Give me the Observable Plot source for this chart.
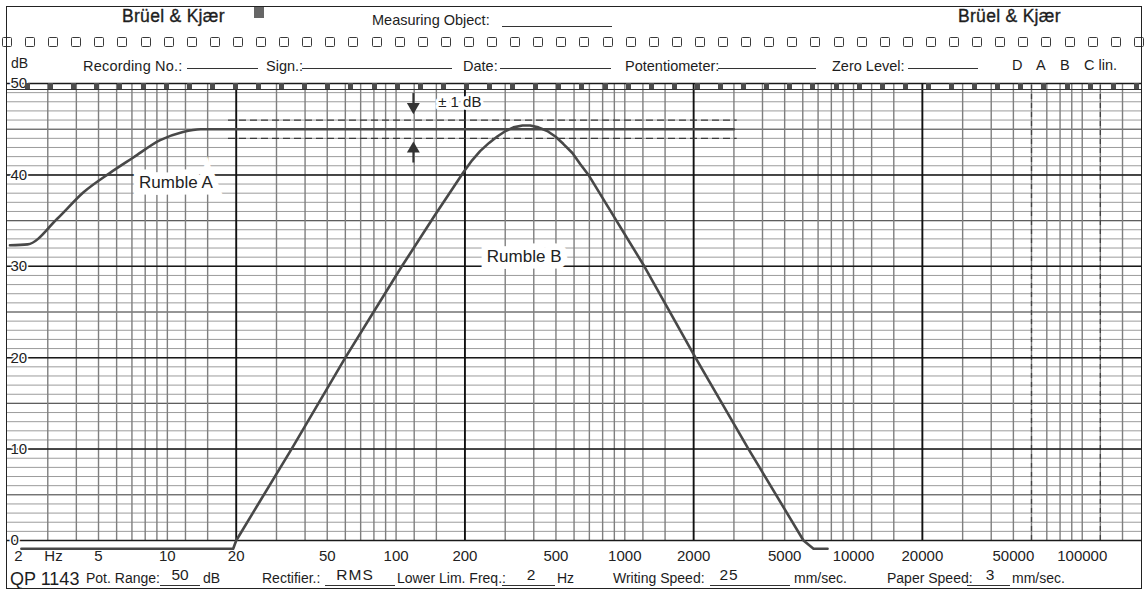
<!DOCTYPE html>
<html lang="en">
<head>
<meta charset="utf-8">
<title>Rumble A / Rumble B – Brüel &amp; Kjær recording</title>
<script src="https://cdn.jsdelivr.net/npm/d3@7"></script>
<script src="https://cdn.jsdelivr.net/npm/@observablehq/plot@0.6"></script>
<style>
html,body{margin:0;padding:0;background:#fff;}
#paper{position:relative;width:1144px;height:591px;overflow:hidden;background:#fff;font-family:"Liberation Sans",Arial,Helvetica,sans-serif;color:#1d1d1d;}
#chart{position:absolute;left:0;top:0;}
.t{position:absolute;white-space:nowrap;line-height:1;}
.ln{position:absolute;height:0;border-top:1px solid #333;}
.hole{position:absolute;width:10px;height:10px;border:1.5px solid #3a3a3a;border-radius:1.5px;box-sizing:border-box;background:#fff;}
.blk{position:absolute;width:6px;height:6px;background:#4d4d4d;}
#frame{position:absolute;left:6px;top:6px;width:1136px;height:583px;border:1.5px solid #222;box-sizing:border-box;pointer-events:none;}
</style>
</head>
<body>
<div id="paper">
  <div id="chart"></div>
  <div id="deco"></div>
  <div id="frame"></div>
</div>
<script>
// ---- data read from the recording ----
const rumbleAFreq = [2.05, 2.45, 3.3, 4.3, 5.6, 7.1, 9.3, 11.7, 14, 3000];
const rumbleADb   = [32.3, 32.4, 35.2, 38.1, 40.2, 41.9, 43.8, 44.7, 45, 45];

const rumbleBFreq = [2.3, 19.4, 20, 34.9, 60, 106, 147, 197, 215, 233, 255, 277, 301, 326, 357, 386, 419, 458, 497, 538, 590, 638, 698, 1217, 2037, 3475, 6043, 6685, 7700];
const rumbleBDb   = [-0.9, -0.9, 0, 10, 20, 30, 35.5, 40.3, 41.6, 42.6, 43.5, 44.2, 44.8, 45.2, 45.4, 45.4, 45.2, 44.8, 44.2, 43.4, 42.4, 41.2, 39.9, 30, 20, 10, 0, -0.9, -0.9];

const xTickValues = [2, 5, 10, 20, 50, 100, 200, 500, 1000, 2000, 5000, 10000, 20000, 50000, 100000];
const xTickLabels = ["2", "5", "10", "20", "50", "100", "200", "500", "1000", "2000", "5000", "10000", "20000", "50000", "100000"];
const yTickValues = [0, 10, 20, 30, 40, 50];
const yTickLabels = ["0", "10", "20", "30", "40", "50"];

const seriesLabels = ["Rumble A", "Rumble B"];
const seriesLabelFreq = [10.9, 363];
const seriesLabelDb = [39.2, 31.1];

const toleranceDb = [44, 46];          // ±1 dB band around 45 dB
const toleranceText = "± 1 dB";

// ---- paper grid (recording paper ruling) ----
const decades = [1, 10, 100, 1000, 10000, 100000];
const minorMult = [1, 1.2, 1.5, 3, 4, 5, 6, 7, 8, 9];
const fMax = 181600;
const vMinor = decades.flatMap(d => minorMult.map(m => +(m * d).toPrecision(6))).filter(f => f > 2 && f < fMax);
const vMajor = [20, 200, 2000, 20000];
const weightingMarks = [60000, 120000];
const hAll = d3.range(1, 50);
const h5 = hAll.filter(d => d % 5 === 0 && d % 10 !== 0);

const rumbleA = rumbleAFreq.map((f, i) => ({f, db: rumbleADb[i]}));
const rumbleB = rumbleBFreq.map((f, i) => ({f, db: rumbleBDb[i]}));

const ink = "#222";
const curveInk = "#484848";

const plot = Plot.plot({
  width: 1144,
  height: 591,
  marginTop: 83,
  marginBottom: 51,
  marginLeft: 7,
  marginRight: 3,
  x: {type: "log", domain: [2, fMax], axis: null},
  y: {domain: [0, 50], axis: null},
  style: {background: "transparent", fontFamily: '"Liberation Sans", Arial, Helvetica, sans-serif', color: ink, overflow: "visible"},
  marks: [
    Plot.ruleY(hAll, {stroke: "#9c9c9c", strokeWidth: 1}),
    Plot.ruleY(h5, {stroke: "#5e5e5e", strokeWidth: 1.1}),
    Plot.ruleX(vMinor, {y1: 0, y2: 50, stroke: "#7f7f7f", strokeWidth: 1.4}),
    Plot.ruleX(weightingMarks, {y1: 0, y2: 50, stroke: "#444", strokeWidth: 1.3, strokeDasharray: "5,4"}),
    Plot.ruleY(yTickValues, {stroke: "#1a1a1a", strokeWidth: 1.5}),
    Plot.ruleX(vMajor, {y1: 0, y2: 50, stroke: "#111", strokeWidth: 1.9}),
    Plot.ruleY(toleranceDb, {x1: 18.5, x2: 3100, stroke: "#3a3a3a", strokeWidth: 1.3, strokeDasharray: "7,4"}),
    Plot.line(rumbleA, {x: "f", y: "db", stroke: curveInk, strokeWidth: 2.6, curve: "monotone-x"}),
    Plot.line(rumbleB, {x: "f", y: "db", stroke: curveInk, strokeWidth: 2.6, curve: "linear", strokeLinejoin: "round"}),
    // series labels on white patches
    Plot.text(seriesLabels, {x: (d, i) => seriesLabelFreq[i], y: (d, i) => seriesLabelDb[i], text: d => d,
      fontSize: 17, fill: ink, stroke: "white", strokeWidth: 13, strokeLinejoin: "miter"}),
    // ±1 dB annotation
    Plot.text([toleranceText], {x: () => 190, y: () => 47.95, text: d => d, fontSize: 15, fill: ink, stroke: "white", strokeWidth: 6}),
    Plot.ruleX([119], {y1: 48.9, y2: 47.6, stroke: "#333", strokeWidth: 2}),
    Plot.dot([119], {x: d => d, y: () => 47.45, symbol: "triangle", r: 4.8, fill: "#333", stroke: "none", rotate: 180}),
    Plot.ruleX([119], {y1: 41.3, y2: 42.8, stroke: "#333", strokeWidth: 2}),
    Plot.dot([119], {x: d => d, y: () => 42.85, symbol: "triangle", r: 4.8, fill: "#333", stroke: "none"}),
    // dB scale labels
    Plot.text(yTickValues, {x: () => 2, y: d => d, text: (d, i) => yTickLabels[i], textAnchor: "start", dx: 3,
      fontSize: 15, fill: ink, stroke: "white", strokeWidth: 3}),
    // frequency labels
    Plot.text(xTickValues.slice(1), {x: d => d, y: () => 0, dy: 16, text: (d, i) => xTickLabels[i + 1], fontSize: 15, fill: ink}),
    Plot.text([xTickLabels[0]], {x: () => xTickValues[0], y: () => 0, dy: 16, dx: 11, text: d => d, fontSize: 15, fill: ink}),
    Plot.text(["Hz"], {x: () => xTickValues[0], y: () => 0, dy: 16, dx: 46, text: d => d, fontSize: 15, fill: ink})
  ]
});
document.getElementById("chart").append(plot);

// ---- printed form around the chart (HTML) ----
const deco = document.getElementById("deco");
function txt(s, x, cy, size, opt = {}) {
  const el = document.createElement("div");
  el.className = "t";
  el.textContent = s;
  el.style.fontSize = size + "px";
  el.style.top = (cy - 0.49 * size) + "px";
  el.style.left = x + "px";
  if (opt.anchor === "middle") el.style.transform = "translateX(-50%)";
  if (opt.spacing) el.style.letterSpacing = opt.spacing + "px";
  if (opt.weight) el.style.webkitTextStroke = opt.weight + "px " + ink;
  deco.appendChild(el);
  return el;
}
function ln(x1, x2, y, w = 1) {
  const el = document.createElement("div");
  el.className = "ln";
  el.style.left = x1 + "px";
  el.style.width = (x2 - x1) + "px";
  el.style.top = y + "px";
  el.style.borderTopWidth = w + "px";
  deco.appendChild(el);
}
function box(cls, x, y, w, h, color) {
  const el = document.createElement("div");
  el.className = cls;
  el.style.left = x + "px";
  el.style.top = y + "px";
  if (w) el.style.width = w + "px";
  if (h) el.style.height = h + "px";
  if (color) el.style.background = color;
  deco.appendChild(el);
}

// row 1
txt("Brüel & Kjær", 122, 17, 17.5, {spacing: 0.3, weight: 0.35});
box("blk", 254, 7, 10, 11, "#666");
txt("Measuring Object:", 372, 20, 14.5);
ln(502, 612, 26);
txt("Brüel & Kjær", 958, 17, 17.5, {spacing: 0.3, weight: 0.35});

// sprocket holes + timing marks
for (let i = 0; i < 50; i++) {
  const cx = 6.9 + 23.1 * i;
  box("hole", cx - 5, 37);
  if (i > 0) box("blk", cx - 5, 83, 5, 6);
}
ln(7, 1141, 89, 1);

// row 3
txt("dB", 11, 63, 14);
txt("Recording No.:", 83, 66, 14.5, {spacing: 0.2});
ln(187, 258, 68);
txt("Sign.:", 266, 66, 14.5);
ln(302, 452, 68);
txt("Date:", 463, 66, 14.5);
ln(500, 611, 68);
txt("Potentiometer:", 625, 66, 14.5);
ln(718, 816, 68);
txt("Zero Level:", 832, 66, 14.5);
ln(908, 978, 68);
txt("D", 1012, 65, 14.5);
txt("A", 1036, 65, 14.5);
txt("B", 1060, 65, 14.5);
txt("C lin.", 1084, 65, 14.5);

// bottom row
txt("QP 1143", 10, 579, 18);
txt("Pot. Range:", 86, 578, 14);
ln(160, 200, 585); txt("50", 180, 575, 15.5, {anchor: "middle"});
txt("dB", 203, 578, 14);
txt("Rectifier.:", 262, 578, 14);
ln(325, 395, 585); txt("RMS", 355, 575, 15.5, {anchor: "middle", spacing: 1});
txt("Lower Lim. Freq.:", 397, 578, 14);
ln(502, 555, 585); txt("2", 531, 575, 15.5, {anchor: "middle"});
txt("Hz", 557, 578, 14);
txt("Writing Speed:", 613, 578, 14);
ln(710, 790, 585); txt("25", 729, 575, 15.5, {anchor: "middle", spacing: 1});
txt("mm/sec.", 794, 578, 14);
txt("Paper Speed:", 887, 578, 14);
ln(967, 1010, 585); txt("3", 990, 575, 15.5, {anchor: "middle"});
txt("mm/sec.", 1012, 578, 14);
</script>
</body>
</html>
